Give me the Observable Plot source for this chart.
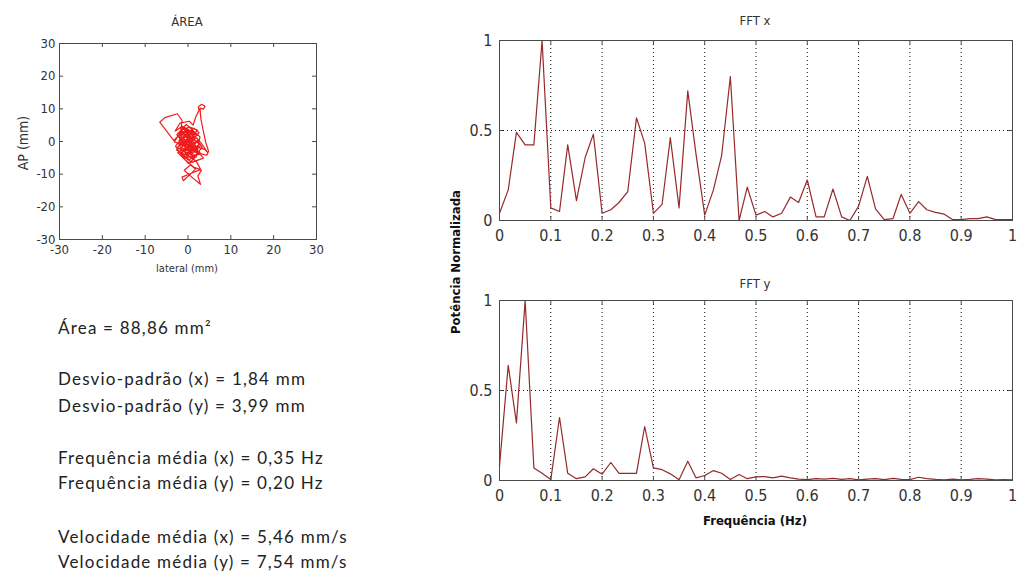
<!DOCTYPE html>
<html><head><meta charset="utf-8">
<script src="https://cdn.jsdelivr.net/npm/d3@7"></script>
<script src="https://cdn.jsdelivr.net/npm/@observablehq/plot@0.6"></script>
<style>
body{margin:0;background:#fff;width:1018px;height:574px;position:relative;overflow:hidden;
 font-family:"DejaVu Sans Condensed","Liberation Sans Narrow","Liberation Sans",sans-serif;color:#333;}
.abs{position:absolute;}
.c{position:absolute;transform:translate(-50%,-50%);white-space:nowrap;}
.rot{position:absolute;transform:translate(-50%,-50%) rotate(-90deg);white-space:nowrap;}
svg{overflow:visible}
.stats{position:absolute;left:58px;font-family:Lato,"Open Sans",sans-serif;font-size:17px;letter-spacing:1.2px;color:#222;white-space:nowrap;line-height:20px;transform:translateY(-50%);}
</style></head><body>
<div id="area" class="abs" style="left:0;top:0"></div>
<div id="fftx" class="abs" style="left:440px;top:0"></div>
<div id="ffty" class="abs" style="left:440px;top:260px"></div>
<div id="labels"></div>
<script>
// ---------- data ----------
const areaTicks = [-30, -20, -10, 0, 10, 20, 30];
const copX = [0,1.5,-1.2,0.8,2.4,-0.6,-2.1,1.1,3.0,0.2,-1.8,1.9,2.8,-0.4,-2.6,-0.9,2.2,3.6,0.9,-1.5,
  -2.9,-1.0,1.4,2.6,0.1,-2.3,-1.2,1.6,3.9,4.6,2.9,0.6,-1.6,-3.0,-1.9,0.3,1.2,1.8,2.6,2.4,
  3.2,4.0,3.6,2.8,3.0,3.6,4.2,4.8,4.4,2.0,-0.5,-2.4,-0.7,1.3,2.9,1.2,-1.4,-1.1,0.4,1.8,
  0.6,-0.9,1.5,2.9,2.3,3.1,1.9,-0.2,-2.7,-1.3,0.9,-0.3,-1.6,-3.2,-1.7,-1.4,-2.5,-5.4,-6.6,-3.3,
  -1.4,0.7,2.1,0.4,-1.5,0.2,1.8,-0.8,1.0,-0.9,2.5,0.5,-0.3,1.2,-0.5,-2.0,0.0,2.2,3.3,1.0,
  -1.0,0.0,
  0.8,-1.9,1.3,-0.2,2.0,-1.1,0.6,-2.2,1.7,-0.6,2.7,0.3,-1.7,1.1,-0.8,1.9,-1.3,0.5,-2.5,0.9,
  3.2,1.4,-0.4,2.3,0.1,-2.0,0.7,2.5,-1.4,0.2,1.6,-0.9,1.2,-1.8,0.4,2.2,-0.1];
const copY = [0,2.5,1.0,-2.2,0.6,3.8,0.2,-3.6,-1.2,1.9,-2.5,-4.8,1.4,5.2,2.1,-1.0,-2.9,-5.1,-6.4,-4.1,
  -1.4,1.7,4.1,2.7,-0.8,-0.4,-3.2,-1.5,-2.4,-3.4,-0.2,2.8,4.4,3.2,5.6,6.2,5.0,7.5,9.6,10.6,
  11.4,10.8,9.9,10.2,7.0,3.0,-0.5,-3.0,-4.2,-3.4,-2.0,-3.4,-5.6,-7.8,-8.6,-9.5,-10.9,-12.0,-10.2,-8.4,
  -7.2,-8.8,-11.6,-13.1,-10.5,-8.9,-6.0,-4.3,-2.6,0.6,-0.4,2.5,-0.8,-0.1,3.0,6.5,8.5,7.3,5.9,0.3,
  2.9,0.9,-1.9,-3.1,-1.9,0.5,1.6,-0.3,-2.7,-5.0,-4.0,-1.0,1.2,3.1,3.6,1.5,-1.7,0.3,-1.8,-5.3,
  -3.0,0.0,
  1.2,-1.2,-0.6,-3.8,-2.2,0.9,3.3,2.6,0.8,-2.4,-3.2,-5.6,-3.6,-1.1,2.0,2.2,4.7,1.5,-1.8,-4.2,
  -3.9,-2.0,0.4,1.9,3.0,0.1,-3.3,-1.0,-4.6,-6.8,-4.9,-1.5,1.8,3.4,4.4,3.5,-0.3];

const freqs = [0,0.017,0.033,0.05,0.067,0.083,0.1,0.117,0.133,0.15,
  0.167,0.183,0.2,0.217,0.233,0.25,0.267,0.283,0.3,0.317,
  0.333,0.35,0.367,0.383,0.4,0.417,0.433,0.45,0.467,0.483,
  0.5,0.517,0.533,0.55,0.567,0.583,0.6,0.617,0.633,0.65,
  0.667,0.683,0.7,0.717,0.733,0.75,0.767,0.783,0.8,0.817,
  0.833,0.85,0.867,0.883,0.9,0.917,0.933,0.95,0.967,0.983,1];
const fftX = [0.04,0.17,0.49,0.42,0.42,1.0,0.07,0.05,0.42,0.11,
  0.35,0.48,0.04,0.06,0.10,0.16,0.57,0.43,0.04,0.09,
  0.46,0.07,0.72,0.37,0.03,0.17,0.36,0.80,0.0,0.185,
  0.03,0.05,0.02,0.04,0.13,0.10,0.225,0.02,0.02,0.175,
  0.02,0.0,0.08,0.245,0.065,0.005,0.01,0.145,0.04,0.105,
  0.06,0.045,0.035,0.005,0.005,0.01,0.01,0.02,0.005,0.005,0.005];
const fftY = [0.08,0.64,0.32,1.0,0.07,0.04,0.005,0.35,0.04,0.01,
  0.02,0.065,0.035,0.10,0.04,0.04,0.04,0.30,0.07,0.06,
  0.037,0.004,0.107,0.015,0.028,0.055,0.04,0.005,0.033,0.01,
  0.02,0.022,0.015,0.024,0.015,0.008,0.005,0.01,0.008,0.012,
  0.006,0.01,0.004,0.008,0.01,0.005,0.012,0.006,0.005,0.018,
  0.01,0.006,0.004,0.008,0.004,0.006,0.01,0.008,0.004,0.005,0.004];
const fftXTicks = [0,0.1,0.2,0.3,0.4,0.5,0.6,0.7,0.8,0.9,1];
const fftYTicks = [0,0.5,1];

const statLines = [
  "Área = 88,86 mm²",
  "Desvio-padrão (x) = 1,84 mm",
  "Desvio-padrão (y) = 3,99 mm",
  "Frequência média (x) = 0,35 Hz",
  "Frequência média (y) = 0,20 Hz",
  "Velocidade média (x) = 5,46 mm/s",
  "Velocidade média (y) = 7,54 mm/s"
];

// ---------- drawing ----------
const tickFont = '"DejaVu Sans Condensed","Liberation Sans Narrow","Liberation Sans",sans-serif';
const frameColor = "#4a4a4a";

function boxTicks(xt, yt, innerW, innerH) {
  return [
    Plot.tickX(xt, {x: d => d, insetTop: innerH - 4, stroke: frameColor}),
    Plot.tickX(xt, {x: d => d, insetBottom: innerH - 4, stroke: frameColor}),
    Plot.tickY(yt, {y: d => d, insetRight: innerW - 4, stroke: frameColor}),
    Plot.tickY(yt, {y: d => d, insetLeft: innerW - 4, stroke: frameColor})
  ];
}

// Area (stabilogram)
{
  const W = 330, H = 270, mL = 59, mR = 14, mT = 43, mB = 31;
  const path = copX.map((x, i) => ({x, y: copY[i]}));
  const p = Plot.plot({
    width: W, height: H, marginLeft: mL, marginRight: mR, marginTop: mT, marginBottom: mB,
    x: {domain: [-30, 30]}, y: {domain: [-30, 30]},
    style: {fontFamily: tickFont, fontSize: "13px", color: "#333", overflow: "visible", background: "transparent"},
    marks: [
      Plot.line(path, {x: "x", y: "y", stroke: "#ee1c1c", strokeWidth: 1.2, curve: "linear"}),
      ...boxTicks(areaTicks, areaTicks, W - mL - mR, H - mT - mB),
      Plot.frame({stroke: frameColor}),
      Plot.axisX(areaTicks, {tickSize: 0, tickPadding: 5, tickFormat: d => String(d), label: null}),
      Plot.axisY(areaTicks, {tickSize: 0, tickPadding: 4, tickFormat: d => String(d), label: null})
    ]
  });
  document.getElementById("area").append(p);
}

function fftPlot(values, el) {
  const W = 574, H = 250, mL = 59, mR = 2, mT = 40, mB = 30;
  const data = freqs.map((f, i) => ({f, p: values[i]}));
  const p = Plot.plot({
    width: W, height: H, marginLeft: mL, marginRight: mR, marginTop: mT, marginBottom: mB,
    x: {domain: [0, 1]}, y: {domain: [0, 1]},
    style: {fontFamily: tickFont, fontSize: "16px", color: "#333", overflow: "visible", background: "transparent"},
    marks: [
      Plot.ruleX(fftXTicks, {stroke: "#111", strokeDasharray: "1,3", strokeWidth: 1}),
      Plot.ruleY(fftYTicks, {stroke: "#111", strokeDasharray: "1,3", strokeWidth: 1}),
      Plot.line(data, {x: "f", y: "p", stroke: "#962a2a", strokeWidth: 1.2}),
      ...boxTicks(fftXTicks, fftYTicks, W - mL - mR, H - mT - mB),
      Plot.frame({stroke: frameColor}),
      Plot.axisX(fftXTicks, {tickSize: 0, tickPadding: 9, tickFormat: d => String(d), label: null}),
      Plot.axisY(fftYTicks, {tickSize: 0, tickPadding: 7, tickFormat: d => String(d), label: null})
    ]
  });
  document.getElementById(el).append(p);
}
fftPlot(fftX, "fftx");
fftPlot(fftY, "ffty");

// ---------- text ----------
const L = document.getElementById("labels");
function addLabel(cls, txt, x, y, style) {
  const d = document.createElement("div");
  d.className = cls; d.textContent = txt;
  d.style.left = x + "px"; d.style.top = y + "px";
  Object.assign(d.style, style || {});
  L.append(d);
}
addLabel("c", "ÁREA", 187, 21, {fontSize: "13px"});
addLabel("c", "lateral (mm)", 187, 268, {fontSize: "11px"});
addLabel("rot", "AP (mm)", 23, 143, {fontSize: "14px"});
addLabel("c", "FFT x", 755, 20, {fontSize: "13px"});
addLabel("c", "FFT y", 755, 283, {fontSize: "13px"});
addLabel("rot", "Potência Normalizada", 455, 262, {fontSize: "13px", fontWeight: "bold", color: "#111"});
addLabel("c", "Frequência (Hz)", 755, 520, {fontSize: "13px", fontWeight: "bold", color: "#111"});

const statY = [328, 379, 406, 458, 483, 537, 562];
statLines.forEach((t, i) => {
  const d = document.createElement("div");
  d.className = "stats"; d.textContent = t; d.style.top = statY[i] + "px";
  L.append(d);
});
</script>
</body></html>
